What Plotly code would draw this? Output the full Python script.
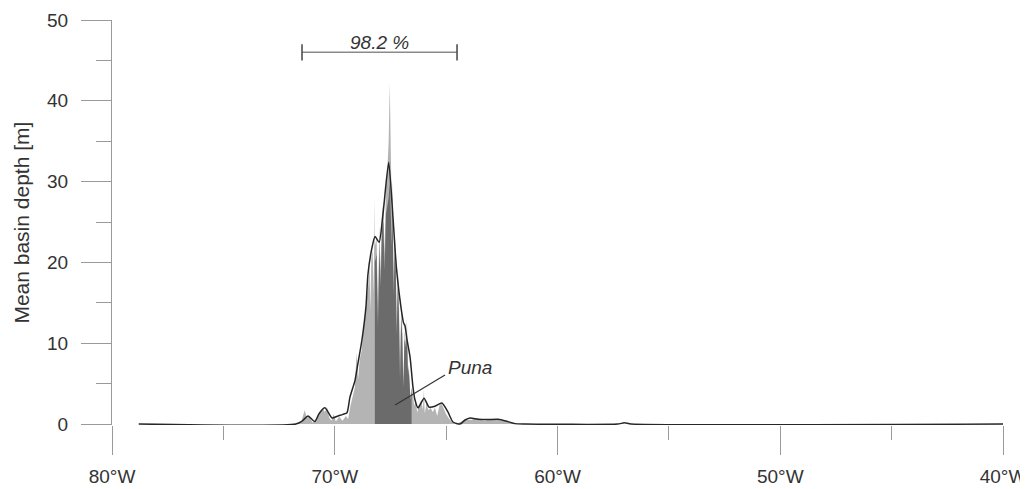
import plotly.graph_objects as go

# ---- data ----
x_ticks = [-80, -70, -60, -50, -40]
x_ticklabels = ["80°W", "70°W", "60°W", "50°W", "40°W"]
x_minor = [-75, -65, -55, -45]
y_ticks = [0, 10, 20, 30, 40, 50]
y_minor = [5, 15, 25, 35, 45]

# smoothed mean basin depth (black line)
smooth_lon = [-78.8, -71.75, -71.45, -71.2, -70.9, -70.7, -70.44, -70.12, -69.85, -69.63,
              -69.45, -69.32, -69.09, -68.96, -68.78, -68.6, -68.51, -68.33, -68.19, -68.01,
              -67.83, -67.58, -67.42, -67.29, -67.21, -67.03, -66.91, -66.85, -66.76, -66.62,
              -66.49, -66.4, -66.26, -65.99, -65.77, -65.5, -65.19, -64.92, -64.69, -64.38,
              -64.15, -63.93, -63.57, -63.17, -62.67, -62.22, -61.91, -61.46, -57.3, -57.0,
              -56.7, -40.0]
smooth_depth = [0, 0, 0.4, 1.0, 0.3, 1.3, 2.0, 0.75, 1.0, 1.2,
                1.4, 3.3, 5.4, 7.5, 10.4, 14.5, 18.5, 21.8, 23.2, 22.5,
                26.1, 32.4, 27.0, 21.5, 18.7, 14.5, 12.5, 12.2, 10.5, 8.3,
                4.6, 3.0, 2.0, 3.2, 2.1, 2.2, 2.6, 1.5, 0.25, 0,
                0.5, 0.75, 0.6, 0.55, 0.6, 0.3, 0.05, 0, 0, 0.15,
                0, 0]

# raw mean basin depth (light grey)
raw_lon = [-71.75, -71.5, -71.35, -71.25, -71.15, -71.0, -70.85, -70.7, -70.55, -70.45,
           -70.35, -70.25, -70.15, -70.05, -69.95, -69.8, -69.65, -69.5, -69.4, -69.3,
           -69.2, -69.1, -69.02, -68.95, -68.88, -68.8, -68.72, -68.64, -68.56, -68.5,
           -68.44, -68.4, -68.36, -68.3, -68.25, -68.21, -68.2, -68.12, -68.06, -68.0,
           -67.94, -67.88, -67.82, -67.76, -67.7, -67.64, -67.58, -67.53, -67.49, -67.44,
           -67.4, -67.36, -67.31, -67.26, -67.22, -67.17, -67.12, -67.07, -67.02, -66.97,
           -66.92, -66.87, -66.8, -66.76, -66.72, -66.66, -66.6, -66.55, -66.5, -66.43,
           -66.36, -66.3, -66.22, -66.12, -66.04, -66.0, -65.96, -65.88, -65.8, -65.7,
           -65.6, -65.5, -65.4, -65.3, -65.2, -65.1, -65.0, -64.85, -64.7, -64.55,
           -64.3, -64.1, -63.9, -63.6, -63.3, -63.0, -62.7, -62.4, -62.1, -61.85]
raw_depth = [0, 0.3, 1.7, 0.7, 1.0, 0.2, 0.4, 1.2, 2.0, 1.5,
             2.1, 0.8, 0.4, 1.2, 0.3, 0.9, 0.4, 1.0, 0.6, 2.2,
             3.2, 4.5, 8.8, 5.5, 8.0, 9.0, 11.5, 13.0, 15.5, 17.0,
             19.5, 14.0, 20.5, 21.5, 16.0, 28.3, 22.0, 23.0, 13.0, 24.5,
             19.0, 26.0, 27.5, 21.0, 29.5, 31.5, 35.0, 42.2, 34.0, 26.0,
             30.0, 18.0, 24.0, 21.0, 12.0, 19.5, 16.0, 6.0, 14.5, 12.0,
             4.5, 11.5, 10.0, 13.1, 7.5, 6.5, 3.0, 4.5, 3.8, 2.2,
             3.2, 1.4, 2.4, 2.9, 1.8, 4.2, 1.3, 2.6, 1.7, 2.0,
             1.5, 2.0, 1.0, 2.3, 2.5, 1.8, 1.2, 0.6, 0.2, 0,
             0.3, 0.6, 0.5, 0.7, 0.4, 0.6, 0.5, 0.4, 0.2, 0]

# Puna segment (dark grey)
puna_lon = [-68.2, -68.12, -68.06, -68.0, -67.94, -67.88, -67.82, -67.76, -67.7, -67.64,
            -67.58, -67.53, -67.49, -67.44, -67.4, -67.36, -67.31, -67.26, -67.22, -67.17,
            -67.12, -67.07, -67.02, -66.97, -66.92, -66.87, -66.8, -66.76, -66.72, -66.66,
            -66.6, -66.55]
puna_depth = [20, 21, 12, 22, 17, 24, 25, 19, 26, 27,
              28, 30, 27, 22, 26, 16, 21, 19, 11, 17,
              14, 5.5, 13, 11, 4.5, 10.5, 9.5, 11, 7, 6,
              3, 4.5]

# annotation values
bracket_west, bracket_east, bracket_level = -71.47, -64.51, 46.0
bracket_label = "98.2 %"
puna_label = "Puna"
puna_label_pos = (-63.93, 7.05)
puna_leader = (-65.05, 6.06, -67.29, 2.35)

TXT = "#333333"
TICK = "#9a9a9a"
FONT = "Liberation Sans, Arial, sans-serif"
FS = 19

fig = go.Figure()
fig.add_trace(go.Scatter(x=raw_lon, y=raw_depth, mode="lines", fill="tozeroy",
                         line=dict(width=0, color="#b4b4b4"), fillcolor="#b4b4b4",
                         hoverinfo="skip", showlegend=False))
fig.add_trace(go.Scatter(x=puna_lon, y=puna_depth, mode="lines", fill="tozeroy",
                         line=dict(width=0, color="#6b6b6b"), fillcolor="#6b6b6b",
                         hoverinfo="skip", showlegend=False))
fig.add_trace(go.Scatter(x=smooth_lon, y=smooth_depth, mode="lines",
                         line=dict(width=1.5, color="#262626", shape="spline", smoothing=0.6),
                         showlegend=False))

# bracket
fig.add_shape(type="line", x0=bracket_west, x1=bracket_east, y0=bracket_level, y1=bracket_level,
              line=dict(color="#8a8a8a", width=1.5))
for bx in (bracket_west, bracket_east):
    fig.add_shape(type="line", x0=bx, x1=bx, y0=bracket_level - 1.0, y1=bracket_level + 1.0,
                  line=dict(color="#444444", width=1.5))
fig.add_annotation(x=(bracket_west + bracket_east) / 2, y=bracket_level + 1.25, text=f"<i>{bracket_label}</i>",
                   showarrow=False, yanchor="middle", font=dict(family=FONT, size=FS, color=TXT))

# Puna label with leader line
fig.add_shape(type="line", x0=puna_leader[0], y0=puna_leader[1], x1=puna_leader[2], y1=puna_leader[3],
              line=dict(color="#333333", width=1.2))
fig.add_annotation(x=puna_label_pos[0], y=puna_label_pos[1], text=f"<i>{puna_label}</i>", showarrow=False,
                   font=dict(family=FONT, size=FS, color=TXT))

# y-axis title
fig.add_annotation(xref="paper", yref="paper", x=-0.102, y=0.5, xanchor="center", yanchor="middle",
                   text="Mean basin depth [m]", textangle=-90, showarrow=False,
                   font=dict(family=FONT, size=21, color=TXT))

# page body has an 8px margin, so the figure is drawn 8px in from the window corner
fig.update_layout(
    width=1020, height=481,
    margin=dict(l=104, r=25, t=12, b=64, autoexpand=False),
    paper_bgcolor="white", plot_bgcolor="white",
    font=dict(family=FONT, size=FS, color=TXT),
    xaxis=dict(range=[-80, -40], tickmode="array", tickvals=x_ticks, ticktext=x_ticklabels,
               automargin=False, showline=False, showgrid=False, zeroline=False,
               ticks="outside", ticklen=29, tickwidth=1, tickcolor=TICK, ticklabelstandoff=5,
               tickfont=dict(family=FONT, size=FS, color=TXT),
               minor=dict(tickmode="array", tickvals=x_minor, ticks="outside",
                          ticklen=14, tickwidth=1, tickcolor=TICK, showgrid=False)),
    yaxis=dict(range=[-0.12, 50], tickmode="array", tickvals=y_ticks,
               automargin=False, showline=True, linecolor=TICK, linewidth=1, showgrid=False, zeroline=False,
               ticks="outside", ticklen=30, tickwidth=1, tickcolor=TICK, ticklabelstandoff=9,
               tickfont=dict(family=FONT, size=FS, color=TXT),
               minor=dict(tickmode="array", tickvals=y_minor, ticks="outside",
                          ticklen=15, tickwidth=1, tickcolor=TICK, showgrid=False)),
)

fig.write_html("out.html")
